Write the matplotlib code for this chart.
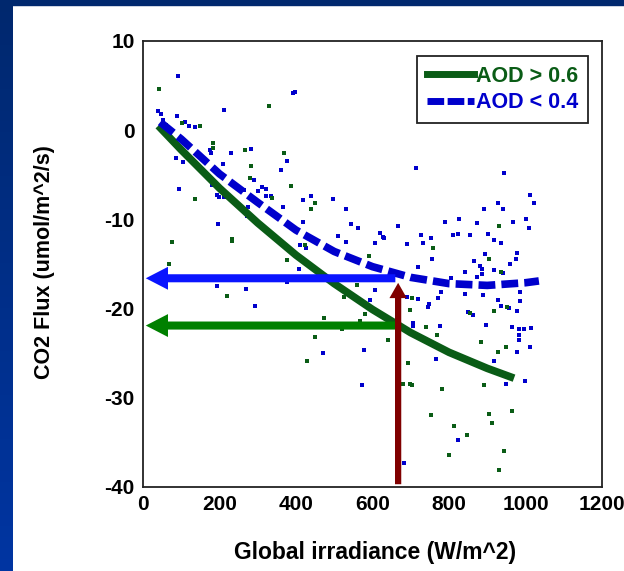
import numpy as np
import matplotlib
matplotlib.use("Agg")
import matplotlib.pyplot as plt
from matplotlib.lines import Line2D

plt.rcParams['font.family'] = ['Liberation Sans', 'DejaVu Sans']
plt.rcParams['font.weight'] = 'bold'
plt.rcParams['axes.unicode_minus'] = False

# --- data ---
blue_x = [91, 40, 46, 52, 89, 110, 120, 136, 213, 392, 397, 97, 87, 104, 93, 175, 177, 230, 283, 210,
          180, 193, 199, 213, 264, 290, 300, 310, 321, 321, 334, 360, 376, 367, 274, 273, 196, 417, 440, 419,
          496, 530, 543, 563, 510, 666, 620, 628, 713, 945, 1012, 1022, 929, 892, 942, 826, 789, 872, 968, 1002,
          1009, 726, 752, 810, 823, 856, 902, 918, 532, 606, 630, 689, 733, 935, 977, 975, 959, 895, 865, 882,
          885, 885, 872, 842, 918, 942, 720, 756, 804, 606, 779, 772, 842, 890, 929, 935, 957, 985, 985, 978,
          850, 862, 748, 746, 720, 691, 593, 898, 966, 983, 996, 1015, 982, 982, 1012, 977, 918, 776, 705, 707,
          766, 949, 999, 579, 572, 823, 682, 410, 426, 409, 193, 269, 293, 376, 470]
blue_y = [6.1, 2.1, 1.8, 1.1, 1.6, 0.95, 0.5, 0.35, 2.3, 4.2, 4.3, -1.85, -3.1, -3.6, -6.6, -2.2, -2.5, -2.5, -2.1, -3.8,
          -6.1, -7.3, -7.5, -7.5, -6.7, -5.6, -6.8, -6.4, -6.6, -7.4, -7.4, -4.5, -3.4, -8.6, -8.6, -9.6, -10.5, -7.8, -7.4, -10.3,
          -7.7, -8.8, -10.5, -11.0, -11.9, -10.7, -11.5, -12.0, -4.2, -4.8, -7.3, -8.2, -8.2, -8.8, -8.8, -9.9, -10.3, -10.4, -10.3, -10.0,
          -11.0, -11.8, -12.1, -11.8, -11.6, -11.7, -11.6, -12.3, -12.5, -12.7, -12.1, -12.8, -12.7, -12.7, -13.8, -14.4, -15.0, -13.9, -14.7, -15.2,
          -15.6, -16.1, -16.5, -15.9, -15.7, -16.0, -15.3, -14.4, -16.6, -17.9, -18.1, -18.8, -18.4, -18.5, -19.0, -19.7, -19.9, -19.2, -18.1, -20.3,
          -20.4, -20.7, -19.5, -19.8, -18.9, -18.7, -19.0, -21.8, -22.1, -22.3, -22.3, -22.2, -23.0, -23.5, -24.3, -24.9, -25.9, -22.0, -21.6, -22.0,
          -25.6, -28.4, -28.1, -24.6, -28.6, -34.7, -37.3, -12.9, -13.2, -15.6, -17.5, -17.8, -19.7, -17.0, -25.0]

green_x = [43, 329, 101, 149, 60, 182, 182, 267, 369, 283, 280, 386, 337, 450, 439, 137, 232, 932,
           590, 759, 905, 935, 560, 525, 702, 699, 580, 669, 918, 951, 855, 740, 768, 567, 519, 640, 883, 949,
           929, 693, 679, 699, 702, 782, 892, 753, 905, 912, 965, 813, 846, 799, 945, 932,
           77, 233, 67, 376, 423, 220, 473, 450, 430]
green_y = [4.6, 2.75, 0.85, 0.5, 0.6, -1.4, -2.0, -2.2, -2.5, -4.0, -5.4, -6.3, -7.6, -8.2, -8.8, -7.7, -12.2, -10.7,
           -14.1, -13.2, -14.4, -15.9, -17.3, -18.7, -18.8, -20.2, -20.6, -20.3, -20.3, -19.8, -20.5, -22.1, -23.0, -21.4, -22.3, -23.5, -23.8, -24.3,
           -24.9, -26.1, -28.4, -28.4, -28.6, -29.0, -28.6, -31.9, -31.8, -32.8, -31.5, -33.2, -34.2, -36.4, -36.0, -38.1,
           -12.5, -12.4, -15.0, -14.6, -12.9, -18.6, -21.0, -23.2, -25.9]

# fitted curves
fit_green_x = [40, 100, 200, 300, 400, 500, 600, 700, 800, 900, 970]
fit_green_y = [0.5, -2.2, -6.5, -10.4, -14.0, -17.2, -20.1, -22.7, -24.9, -26.7, -27.8]
fit_blue_x = [45, 100, 200, 300, 400, 500, 600, 700, 800, 900, 1000, 1035]
fit_blue_y = [0.9, -1.0, -4.9, -8.1, -11.2, -13.6, -15.3, -16.5, -17.2, -17.4, -17.1, -16.9]

# arrows
arrow_x = 667
blue_level = -16.6
green_level = -21.9
red_top = -16.8

x_ticks = [0, 200, 400, 600, 800, 1000, 1200]
y_ticks = [-40, -30, -20, -10, 0, 10]

GREEN = '#0a5c16'
BLUE = '#0000cc'

W, H = 624, 571
fig = plt.figure(figsize=(W / 100, H / 100), dpi=100, facecolor='white')

# dark blue frame of the slide (left strip gradient + top band)
bg = fig.add_axes([0, 0, 13 / W, 1])
grad = np.linspace(0, 1, 256).reshape(-1, 1)
cmap = matplotlib.colors.LinearSegmentedColormap.from_list('slide', ['#00286e', '#0035a2'])
bg.imshow(grad, aspect='auto', cmap=cmap, origin='upper', extent=[0, 1, 0, 1])
bg.axis('off')
fig.patches.append(matplotlib.patches.Rectangle((0, 1 - 5 / H), 1, 5 / H, transform=fig.transFigure,
                                                color='#00286e', zorder=0))

ax = fig.add_axes([143 / W, 1 - 487 / H, (602 - 143) / W, (487 - 41) / H])
ax.set_xlim(0, 1200)
ax.set_ylim(-40, 10)

ax.scatter(blue_x, blue_y, marker='s', s=10, color=BLUE, linewidths=0, zorder=2)
ax.scatter(green_x, green_y, marker='s', s=10, color=GREEN, linewidths=0, zorder=2)

ax.plot(fit_green_x, fit_green_y, color=GREEN, lw=5.5, solid_capstyle='butt', zorder=3)
ax.plot(fit_blue_x, fit_blue_y, color=BLUE, lw=5.5, dashes=(2.2, 0.8), zorder=4)

arrow_kw = dict(arrowstyle='simple,head_length=1.6,head_width=1.65,tail_width=0.58',
                mutation_scale=10, lw=0)
ax.annotate('', xy=(0, blue_level), xytext=(arrow_x, blue_level),
            arrowprops=dict(color='#0a14ff', **arrow_kw), zorder=5)
ax.annotate('', xy=(0, green_level), xytext=(arrow_x, green_level),
            arrowprops=dict(color='#008000', **arrow_kw), zorder=5)
ax.annotate('', xy=(arrow_x, red_top), xytext=(arrow_x, -40),
            arrowprops=dict(color='#800000', arrowstyle='simple,head_length=1.1,head_width=1.25,tail_width=0.45',
                            mutation_scale=10, lw=0), zorder=6)

ax.set_xticks(x_ticks)
ax.set_yticks(y_ticks)
ax.tick_params(length=0, labelsize=15, pad=6)
for lab in ax.get_xticklabels() + ax.get_yticklabels():
    lab.set_fontweight('bold')
for sp in ax.spines.values():
    sp.set_color('#222222')
    sp.set_linewidth(1.3)

fig.text(375 / W, 1 - 552 / H, 'Global irradiance (W/m^2)', ha='center', va='center',
         fontsize=16.5, fontweight='bold')
fig.text(45 / W, 1 - 262 / H, 'CO2 Flux (umol/m^2/s)', ha='center', va='center', rotation=90,
         fontsize=15.5, fontweight='bold')

handles = [Line2D([], [], color=GREEN, lw=5),
           Line2D([], [], color=BLUE, lw=5, dashes=(2.4, 0.5))]
leg = ax.legend(handles, ['AOD > 0.6', 'AOD < 0.4'], loc='upper right',
                bbox_to_anchor=(588 / W, 1 - 56 / H), bbox_transform=fig.transFigure,
                borderaxespad=0, fancybox=False, framealpha=1, edgecolor='#222222',
                handlelength=2.2, handletextpad=0.1, labelspacing=0.25,
                prop={'size': 15.5, 'weight': 'bold'}, labelcolor='linecolor',
                borderpad=0.45)
leg.get_frame().set_linewidth(1.3)

fig.savefig('out.png', dpi=100, facecolor='white')
